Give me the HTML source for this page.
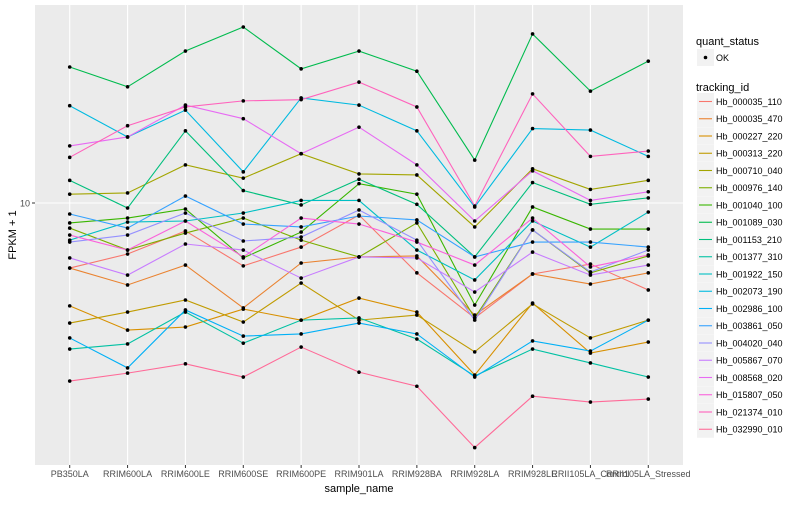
<!DOCTYPE html>
<html><head><meta charset="utf-8"><style>
body{margin:0;background:#fff;font-family:"Liberation Sans",sans-serif}
svg text{font-family:"Liberation Sans",sans-serif}
</style></head><body>
<svg id="chart" width="800" height="500" xmlns="http://www.w3.org/2000/svg"></svg>
<script>
const categories=["PB350LA","RRIM600LA","RRIM600LE","RRIM600SE","RRIM600PE","RRIM901LA","RRIM928BA","RRIM928LA","RRIM928LE","RRII105LA_Control","RRII105LA_Stressed"];
const seriesNames=["Hb_000035_110","Hb_000035_470","Hb_000227_220","Hb_000313_220","Hb_000710_040","Hb_000976_140","Hb_001040_100","Hb_001089_030","Hb_001153_210","Hb_001377_310","Hb_001922_150","Hb_002073_190","Hb_002986_100","Hb_003861_050","Hb_004020_040","Hb_005867_070","Hb_008568_020","Hb_015807_050","Hb_021374_010","Hb_032990_010"];
const seriesColors=["#F8766D","#EA8331","#D89000","#C09B00","#A3A500","#7CAE00","#39B600","#00BB4E","#00BF7D","#00C1A3","#00BFC4","#00BAE0","#00B0F6","#35A2FF","#9590FF","#C77CFF","#E76BF3","#FA62DB","#FF62BC","#FF6A98"];
const s000035_110=[6.07,6.76,8.07,6.17,7.13,9.12,5.85,4.14,5.80,6.26,5.13];
const s000035_470=[6.07,5.33,6.21,4.47,6.31,6.61,6.66,4.23,5.80,5.37,5.85];
const s000227_220=[4.54,3.77,3.86,4.43,4.07,4.82,4.33,2.67,4.64,3.16,3.44];
const s000313_220=[3.98,4.33,4.75,4.01,5.41,4.07,4.23,3.19,4.61,3.55,4.07];
const s000710_040=[10.7,10.8,13.4,12.1,14.6,12.5,12.4,8.32,13.0,11.1,11.9];
const s000976_140=[8.25,6.97,7.94,8.91,7.52,6.61,8.58,4.14,8.13,5.85,6.66];
const s001040_100=[8.58,8.91,9.55,6.56,8.0,11.6,10.7,4.57,9.7,8.19,8.19];
const s001089_030=[28.4,24.4,32.1,38.6,28.0,32.1,27.5,13.9,36.6,23.6,29.7];
const s001153_210=[11.9,9.62,17.4,11.0,9.85,12.0,9.9,6.61,11.7,9.9,10.4];
const s001377_310=[3.26,3.39,4.33,3.41,4.07,4.14,3.52,2.65,3.26,2.93,2.63];
const s001922_150=[7.52,8.64,8.71,9.26,10.2,10.2,6.97,5.54,8.71,7.13,9.33];
const s002073_190=[21.1,16.6,20.4,12.7,22.4,21.2,17.4,9.7,17.7,17.5,14.3];
const s002986_100=[3.55,2.82,4.40,3.60,3.66,3.98,3.66,2.63,3.47,3.21,4.07];
const s003861_050=[9.19,8.25,10.55,8.51,8.32,9.05,8.78,6.61,7.41,7.41,7.13];
const s004020_040=[7.41,7.82,9.26,7.47,7.70,9.48,7.52,4.07,8.13,5.89,6.97];
const s005867_070=[6.56,5.75,7.3,6.97,5.62,6.61,6.56,5.05,6.86,5.75,6.21];
const s008568_020=[15.5,16.6,21.2,19.1,14.6,17.9,13.4,8.71,12.8,10.2,10.9];
const s015807_050=[7.82,6.97,8.71,6.61,8.91,8.51,7.41,6.21,8.91,6.12,6.71];
const s021374_010=[14.2,18.1,20.9,21.9,22.1,25.3,20.9,9.77,23.1,14.3,14.9];
const s032990_010=[2.55,2.71,2.91,2.63,3.31,2.73,2.45,1.53,2.27,2.17,2.22];
const seriesValues=[s000035_110,s000035_470,s000227_220,s000313_220,s000710_040,s000976_140,s001040_100,s001089_030,s001153_210,s001377_310,s001922_150,s002073_190,s002986_100,s003861_050,s004020_040,s005867_070,s008568_020,s015807_050,s021374_010,s032990_010];
const yTicks=[10];

const NS="http://www.w3.org/2000/svg";
const svg=document.getElementById('chart');
function mk(tag,attrs,parent){const e=document.createElementNS(NS,tag);for(const k in attrs)e.setAttribute(k,attrs[k]);(parent||svg).appendChild(e);return e;}
const PL=35,PR=683,PT=5,PB=465;
const step=(PR-PL)/(categories.length-1+1.2);
function xs(i){return PL+0.6*step+i*step;}
function ys(v){return 203-300*(Math.log10(v)-1);}

const bg=mk('rect',{x:PL,y:PT,width:PR-PL,height:PB-PT,fill:'#EBEBEB'});


yTicks.forEach(t=>{
  const g=mk('line',{x1:PL,x2:PR,y1:ys(t),y2:ys(t),stroke:'#fff','stroke-width':1.1});
  
  
  mk('line',{x1:PL-3,x2:PL,y1:ys(t),y2:ys(t),stroke:'#333'});
  const tl=mk('text',{x:PL-5,y:ys(t)+3.5,'text-anchor':'end','font-size':9,fill:'#4D4D4D'});
  tl.textContent=String(t);
  
  
});
categories.forEach((c,i)=>{
  const g=mk('line',{x1:xs(i),x2:xs(i),y1:PT,y2:PB,stroke:'#fff','stroke-width':1.1});
  
  
  mk('line',{x1:xs(i),x2:xs(i),y1:PB,y2:PB+3,stroke:'#333'});
  const tl=mk('text',{x:xs(i),y:477,'text-anchor':'middle','font-size':9,fill:'#4D4D4D'});
  tl.textContent=c;
  
  
});
seriesValues.forEach((vals,si)=>{
  const p=mk('polyline',{points:vals.map((v,i)=>xs(i)+','+ys(v)).join(' '),fill:'none',stroke:seriesColors[si],'stroke-width':1.1});
  
  
});
seriesValues.forEach((vals,si)=>{
  vals.forEach((v,i)=>{
    const c=mk('circle',{cx:xs(i),cy:ys(v),r:1.8,fill:'#000'});
    
    
  });
});
const xt=mk('text',{x:(PL+PR)/2,y:492,'text-anchor':'middle','font-size':11,fill:'#000'});
xt.textContent='sample_name';


const yt=mk('text',{x:0,y:0,'text-anchor':'middle','font-size':11,fill:'#000',transform:'translate(16,235) rotate(-90)'});
yt.textContent='FPKM + 1';


// legend
const lq=mk('text',{x:696,y:45,'font-size':11,fill:'#000'});
lq.textContent='quant_status';


mk('rect',{x:697,y:49,width:17,height:17,fill:'#F2F2F2'});
mk('circle',{cx:705.5,cy:57.5,r:1.8,fill:'#000'});
const ok=mk('text',{x:716,y:61,'font-size':9,fill:'#000'});
ok.textContent='OK';


const lt=mk('text',{x:696,y:91,'font-size':11,fill:'#000'});
lt.textContent='tracking_id';


seriesNames.forEach((n,i)=>{
  const y=101.5+i*17.25;
  mk('rect',{x:697,y:y-8.5,width:17,height:17,fill:'#F2F2F2'});
  mk('line',{x1:699,x2:712,y1:y,y2:y,stroke:seriesColors[i],'stroke-width':1.1});
  const t=mk('text',{x:716,y:y+3.3,'font-size':9,fill:'#000'});
  t.textContent=n;
  
  
});
</script>
</body></html>
